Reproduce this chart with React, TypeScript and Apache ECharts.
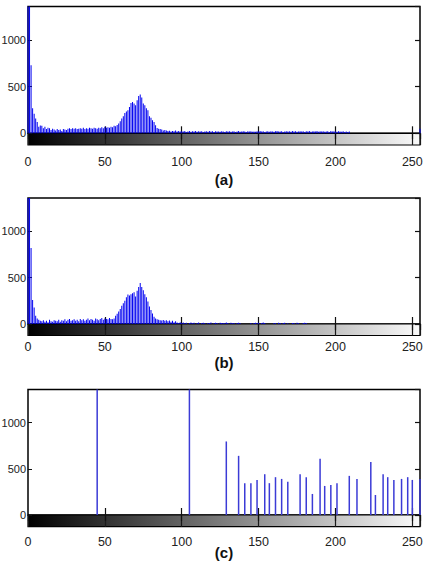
import React, { useEffect, useRef } from "react";
import * as echarts from "echarts";

// ---------- data ----------
const X_TICKS = [0, 50, 100, 150, 200, 250];
const Y_TICKS = [0, 500, 1000];
const captions = ["(a)", "(b)", "(c)"];
const LEVELS: string[] = Array.from({ length: 256 }, (_, i) => String(i));

// (a) original histogram, counts per grey level 0..255
const histA: number[] = [
  2600, 1500, 730, 270, 210, 160, 120, 70, 85, 80,
  55, 70, 45, 60, 55, 35, 50, 40, 30, 45,
  35, 40, 25, 45, 40, 35, 50, 55, 45, 55,
  50, 55, 45, 50, 55, 50, 60, 45, 55, 50,
  60, 55, 50, 60, 55, 50, 60, 55, 65, 55,
  70, 60, 65, 60, 70, 65, 80, 75, 90, 104,
  130, 158, 183, 218, 235, 247, 283, 326, 337, 320,
  301, 355, 400, 416, 384, 319, 301, 270, 247, 183,
  168, 140, 122, 86, 57, 50, 45, 40, 30, 35,
  30, 25, 28, 20, 25, 22, 30, 18, 25, 20,
  22, 18, 25, 15, 20, 24, 17, 22, 19, 25,
  16, 21, 18, 23, 14, 20, 22, 17, 24, 19,
  21, 15, 23, 18, 20, 16, 22, 19, 14, 21,
  18, 23, 16, 20, 22, 15, 19, 24, 17, 20,
  22, 18, 15, 21, 19, 23, 17, 20, 16, 22,
  19, 24, 18, 21, 15, 20, 23, 17, 22, 19,
  16, 21, 25, 18, 20, 22, 15, 19, 23, 18,
  21, 17, 24, 19, 22, 16, 20, 23, 18, 21,
  15, 22, 19, 24, 17, 20, 22, 18, 25, 16,
  21, 19, 23, 17, 20, 22, 15, 24, 18, 21,
  19, 16, 22, 20, 17, 23, 15, 19, 14, 18,
  0, 0, 0, 0, 0, 0, 0, 0, 0, 0,
  0, 0, 0, 0, 0, 0, 0, 0, 0, 0,
  0, 0, 0, 0, 0, 0, 0, 0, 0, 0,
  0, 0, 0, 0, 0, 0, 0, 0, 0, 0,
  0, 0, 0, 0, 0, 50,
];

// (b) filtered histogram
const histB: number[] = [
  2600, 1500, 821, 260, 179, 88, 60, 45, 35, 30,
  40, 25, 35, 20, 45, 30, 25, 40, 35, 30,
  45, 25, 40, 35, 50, 30, 45, 55, 35, 40,
  50, 35, 45, 30, 55, 40, 50, 35, 45, 60,
  40, 55, 45, 35, 60, 50, 40, 55, 65, 45,
  60, 55, 50, 65, 55, 50, 60, 88, 110, 135,
  161, 198, 225, 250, 289, 319, 308, 320, 333, 344,
  297, 360, 399, 443, 399, 363, 320, 289, 242, 190,
  150, 113, 77, 60, 51, 45, 40, 38, 42, 35,
  40, 30, 38, 25, 35, 20, 30, 15, 12, 18,
  10, 15, 8, 14, 0, 12, 16, 9, 13, 0,
  11, 15, 0, 10, 14, 8, 0, 12, 10, 15,
  0, 9, 13, 11, 0, 14, 10, 12, 8, 15,
  11, 0, 13, 9, 12, 0, 10, 14, 8, 0,
  0, 0, 0, 0, 0, 12, 0, 10, 14, 9,
  13, 0, 11, 15, 10, 0, 0, 0, 0, 0,
  12, 9, 0, 14, 10, 0, 11, 13, 0, 9,
  0, 0, 12, 10, 0, 14, 9, 0, 0, 11,
  13, 10, 0, 0, 0, 0, 0, 0, 0, 0,
  0, 0, 0, 0, 0, 0, 0, 0, 0, 0,
  0, 0, 0, 0, 0, 0, 0, 0, 0, 0,
  0, 0, 0, 0, 0, 0, 0, 0, 0, 0,
  0, 0, 0, 0, 0, 0, 0, 0, 0, 0,
  0, 0, 0, 0, 0, 0, 0, 0, 0, 0,
  0, 0, 0, 0, 0, 0, 0, 0, 0, 0,
  0, 0, 0, 0, 0, 0,
];

// (c) equalized histogram: occupied grey levels and counts
const binsC: number[] = [
  45, 105, 129, 137, 141, 145, 149, 154, 157, 161,
  165, 169, 177, 181, 185, 190, 193, 197, 201, 209,
  214, 223, 226, 231, 234, 238, 243, 247, 250, 255,
];
const countsC: number[] = [
  2800, 2800, 797, 641, 345, 345, 380, 442, 345, 410,
  391, 359, 442, 410, 228, 609, 315, 326, 345, 424,
  391, 573, 217, 442, 410, 380, 391, 410, 380, 391,
];

// ---------- layout ----------
const FONT = "'Liberation Sans', Arial, sans-serif";
const X_MAX = 255;
const Y_MAX = 1360;
const LEFT = 28;
const WIDTH = 392;
const panels = [
  { histTop: 6.5, histH: 126.8, gradH: 11.7, labelMargin: 10, capY: 179 },
  { histTop: 198, histH: 126, gradH: 11.5, labelMargin: 5, capY: 362 },
  { histTop: 389.5, histH: 125.5, gradH: 11.7, labelMargin: 9, capY: 552 },
];

export default function App() {
  const ref = useRef<HTMLDivElement>(null);

  useEffect(() => {
    if (!ref.current) return;
    const chart = echarts.init(ref.current, undefined, { renderer: "svg" });

    const grids: any[] = [];
    const xAxes: any[] = [];
    const yAxes: any[] = [];
    const series: any[] = [];
    const graphics: any[] = [];

    const cFull: (number | null)[] = LEVELS.map(() => null);
    binsC.forEach((b, i) => { cFull[b] = countsC[i]; });
    const histData = [histA, histB, cFull];

    panels.forEach((p, k) => {
      const gHist = grids.length;
      grids.push({
        left: LEFT, top: p.histTop, width: WIDTH, height: p.histH,
        outerBoundsMode: "none", containLabel: false,
        show: true, borderColor: "#000", borderWidth: 1.5, backgroundColor: "#fff",
      });
      const gGrad = grids.length;
      grids.push({
        left: LEFT, top: p.histTop + p.histH, width: WIDTH, height: p.gradH,
        outerBoundsMode: "none", containLabel: false,
        show: true, borderColor: "#000", borderWidth: 1.2,
        backgroundColor: {
          type: "linear", x: 0, y: 0, x2: 1, y2: 0,
          colorStops: [{ offset: 0, color: "#000" }, { offset: 1, color: "#fafafa" }],
        },
      });
      const xBase = xAxes.length;
      const common = { type: "value", min: 0, max: X_MAX, interval: 50 };
      // bottom histogram axis: one category per grey level, no boundary gap
      xAxes.push({
        type: "category", data: LEVELS, boundaryGap: false,
        gridIndex: gHist, position: "bottom",
        axisLine: { show: false }, axisLabel: { show: false }, splitLine: { show: false },
        axisTick: {
          show: true, inside: true, length: 7, alignWithLabel: true,
          interval: (idx: number) => idx > 0 && idx % 50 === 0,
          lineStyle: { color: "#111", width: 1.2 },
        },
      });
      xAxes.push({
        ...common, gridIndex: gHist, position: "top",
        axisLine: { show: false }, axisLabel: { show: false }, splitLine: { show: false },
        axisTick: { show: true, inside: true, length: 6, lineStyle: { color: "#111", width: 1.2 } },
      });
      xAxes.push({
        ...common, gridIndex: gGrad, position: "bottom",
        axisLine: { show: false }, axisTick: { show: false },
        splitLine: { show: true, lineStyle: { color: "#1a1a1a", width: 1.2 } },
        axisLabel: {
          show: true, margin: p.labelMargin, fontFamily: FONT, fontSize: 12.5, color: "#222",
          showMaxLabel: false,
          formatter: (v: number) => (X_TICKS.includes(v) ? String(v) : ""),
        },
      });
      const yBase = yAxes.length;
      const ycommon = { type: "value", min: 0, max: Y_MAX, interval: 500 };
      yAxes.push({
        ...ycommon, gridIndex: gHist, position: "left",
        axisLine: { show: false }, splitLine: { show: false },
        axisTick: { show: true, inside: true, length: 4, lineStyle: { color: "#111" } },
        axisLabel: {
          show: true, margin: 2, fontFamily: FONT, fontSize: 11, color: "#222",
          showMaxLabel: false,
          formatter: (v: number) => (Y_TICKS.includes(v) ? String(v) : ""),
        },
      });
      yAxes.push({
        ...ycommon, gridIndex: gHist, position: "right",
        axisLine: { show: false }, splitLine: { show: false }, axisLabel: { show: false },
        axisTick: { show: true, inside: true, length: 5, lineStyle: { color: "#111", width: 1.2 } },
      });
      yAxes.push({ type: "value", gridIndex: gGrad, min: 0, max: 1, show: false });

      series.push({
        type: "bar",
        xAxisIndex: xBase,
        yAxisIndex: yBase,
        data: histData[k],
        barWidth: k === 2 ? 1.5 : 1,
        clip: true,
        itemStyle: { color: k === 2 ? "#3b3bd6" : "#0000f0" },
        emphasis: { disabled: true },
      });

      graphics.push({
        type: "text",
        x: 224,
        y: p.capY,
        style: {
          text: captions[k],
          fontFamily: FONT,
          fontWeight: "bold",
          fontSize: 15,
          fill: "#111",
          textAlign: "center",
          textVerticalAlign: "middle",
        },
      });
    });

    chart.setOption({
      animation: false,
      backgroundColor: "#fff",
      grid: grids,
      xAxis: xAxes,
      yAxis: yAxes,
      series,
      graphic: graphics,
    });

    return () => chart.dispose();
  }, []);

  return (
    <div
      ref={ref}
      style={{ position: "fixed", left: 0, top: 0, width: 431, height: 571, background: "#fff" }}
    />
  );
}
